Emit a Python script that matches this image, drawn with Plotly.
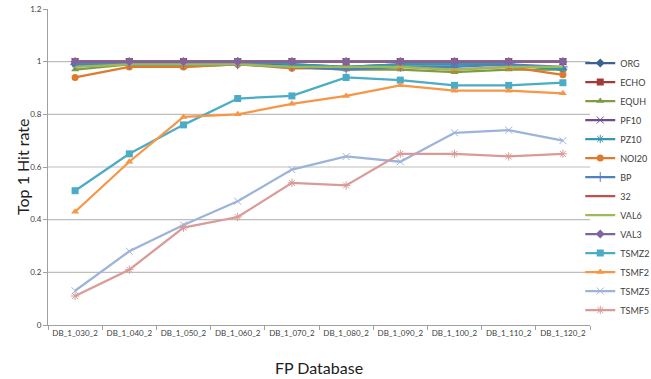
import plotly.graph_objects as go

databases = ["DB_1_030_2", "DB_1_040_2", "DB_1_050_2", "DB_1_060_2", "DB_1_070_2",
             "DB_1_080_2", "DB_1_090_2", "DB_1_100_2", "DB_1_110_2", "DB_1_120_2"]

org = [0.99, 0.99, 0.99, 0.99, 0.99, 0.98, 0.99, 0.99, 0.99, 0.97]
echo = [1.00, 1.00, 1.00, 1.00, 1.00, 1.00, 1.00, 1.00, 1.00, 1.00]
equh = [0.97, 0.99, 0.98, 0.99, 0.98, 0.97, 0.97, 0.96, 0.97, 0.97]
pf10 = [1.00, 1.00, 1.00, 1.00, 1.00, 1.00, 1.00, 1.00, 1.00, 1.00]
pz10 = [0.99, 0.99, 0.99, 1.00, 0.99, 0.98, 0.99, 0.99, 0.99, 0.97]
noi20 = [0.94, 0.98, 0.98, 0.99, 0.975, 0.975, 0.98, 0.97, 0.98, 0.95]
bp = [0.99, 0.99, 0.99, 0.99, 0.98, 0.97, 0.98, 0.98, 0.99, 0.98]
s32 = [1.00, 1.00, 1.00, 1.00, 1.00, 1.00, 1.00, 1.00, 1.00, 1.00]
val6 = [0.98, 0.99, 0.99, 0.99, 0.98, 0.98, 0.98, 0.97, 0.98, 0.98]
val3 = [1.00, 1.00, 1.00, 1.00, 1.00, 1.00, 1.00, 1.00, 1.00, 1.00]
tsmz2 = [0.51, 0.65, 0.76, 0.86, 0.87, 0.94, 0.93, 0.91, 0.91, 0.92]
tsmf2 = [0.43, 0.62, 0.79, 0.80, 0.84, 0.87, 0.91, 0.89, 0.89, 0.88]
tsmz5 = [0.13, 0.28, 0.38, 0.47, 0.59, 0.64, 0.62, 0.73, 0.74, 0.70]
tsmf5 = [0.11, 0.21, 0.37, 0.41, 0.54, 0.53, 0.65, 0.65, 0.64, 0.65]

series = [
    ("ORG", org, "#3A6295", "diamond"),
    ("ECHO", echo, "#A33A38", "square"),
    ("EQUH", equh, "#7F9C3E", "triangle-up"),
    ("PF10", pf10, "#6A4E8C", "x-thin"),
    ("PZ10", pz10, "#3497AE", "asterisk"),
    ("NOI20", noi20, "#DE7A2C", "circle"),
    ("BP", bp, "#4F81BD", "cross-thin"),
    ("32", s32, "#C0504D", None),
    ("VAL6", val6, "#9BBB59", None),
    ("VAL3", val3, "#8064A2", "diamond"),
    ("TSMZ2", tsmz2, "#4BACC6", "square"),
    ("TSMF2", tsmf2, "#F79646", "triangle-up"),
    ("TSMZ5", tsmz5, "#9DB4DA", "x-thin"),
    ("TSMF5", tsmf5, "#D99A98", "asterisk"),
]

fig = go.Figure()
for name, vals, color, sym in series:
    if sym is None:
        fig.add_trace(go.Scatter(x=databases, y=vals, name=name, mode="lines",
                                 line=dict(color=color, width=2.25)))
    else:
        thin = sym in ("x-thin", "cross-thin", "asterisk")
        fig.add_trace(go.Scatter(
            x=databases, y=vals, name=name, mode="lines+markers",
            line=dict(color=color, width=2.25),
            marker=dict(symbol=sym, size=7, color=color,
                        line=dict(color=color, width=1 if thin else 0))))

# horizontal gridlines below the top of the value axis
for g in [0.2, 0.4, 0.6, 0.8, 1.0]:
    fig.add_shape(type="line", xref="paper", yref="y", x0=0, x1=1, y0=g, y1=g,
                  line=dict(color="#BDBDBD", width=1.2), layer="below")

# axis titles
fig.add_annotation(text="FP Database", xref="paper", yref="paper", x=0.5, y=-0.133,
                   xanchor="center", yanchor="middle", showarrow=False,
                   font=dict(size=16, color="#202020"))
fig.add_annotation(text="Top 1 Hit rate", xref="paper", yref="paper", x=-0.048, y=0.5,
                   xanchor="center", yanchor="middle", showarrow=False, textangle=-90,
                   font=dict(size=16, color="#202020"))

fig.update_layout(
    width=651, height=379,
    margin=dict(l=48, r=61, t=9, b=54, autoexpand=False),
    paper_bgcolor="white", plot_bgcolor="white",
    font=dict(family="Lato, Open Sans, sans-serif", color="#404040", size=9),
    showlegend=True,
    legend=dict(x=0.982, y=0.875, xanchor="left", yanchor="top",
                font=dict(size=9, color="#404040"), tracegroupgap=0,
                itemwidth=30, bgcolor="rgba(0,0,0,0)"),
    xaxis=dict(
        type="category", tickson="boundaries", ticks="outside", ticklen=4,
        tickcolor="#A0A0A0", showline=True, linecolor="#A0A0A0", linewidth=1,
        showgrid=False, tickangle=0, automargin=False,
        tickfont=dict(size=8, color="#404040"), range=[-0.5, 9.5]),
    yaxis=dict(
        range=[0, 1.2], tickvals=[0, 0.2, 0.4, 0.6, 0.8, 1.0, 1.2],
        ticktext=["0", "0.2", "0.4", "0.6", "0.8", "1", "1.2"],
        ticks="outside", ticklen=4, tickcolor="#A0A0A0", automargin=False,
        showline=True, linecolor="#A0A0A0", linewidth=1,
        showgrid=False, zeroline=False, tickfont=dict(size=8, color="#404040")),
)

fig.write_html("out.html")
